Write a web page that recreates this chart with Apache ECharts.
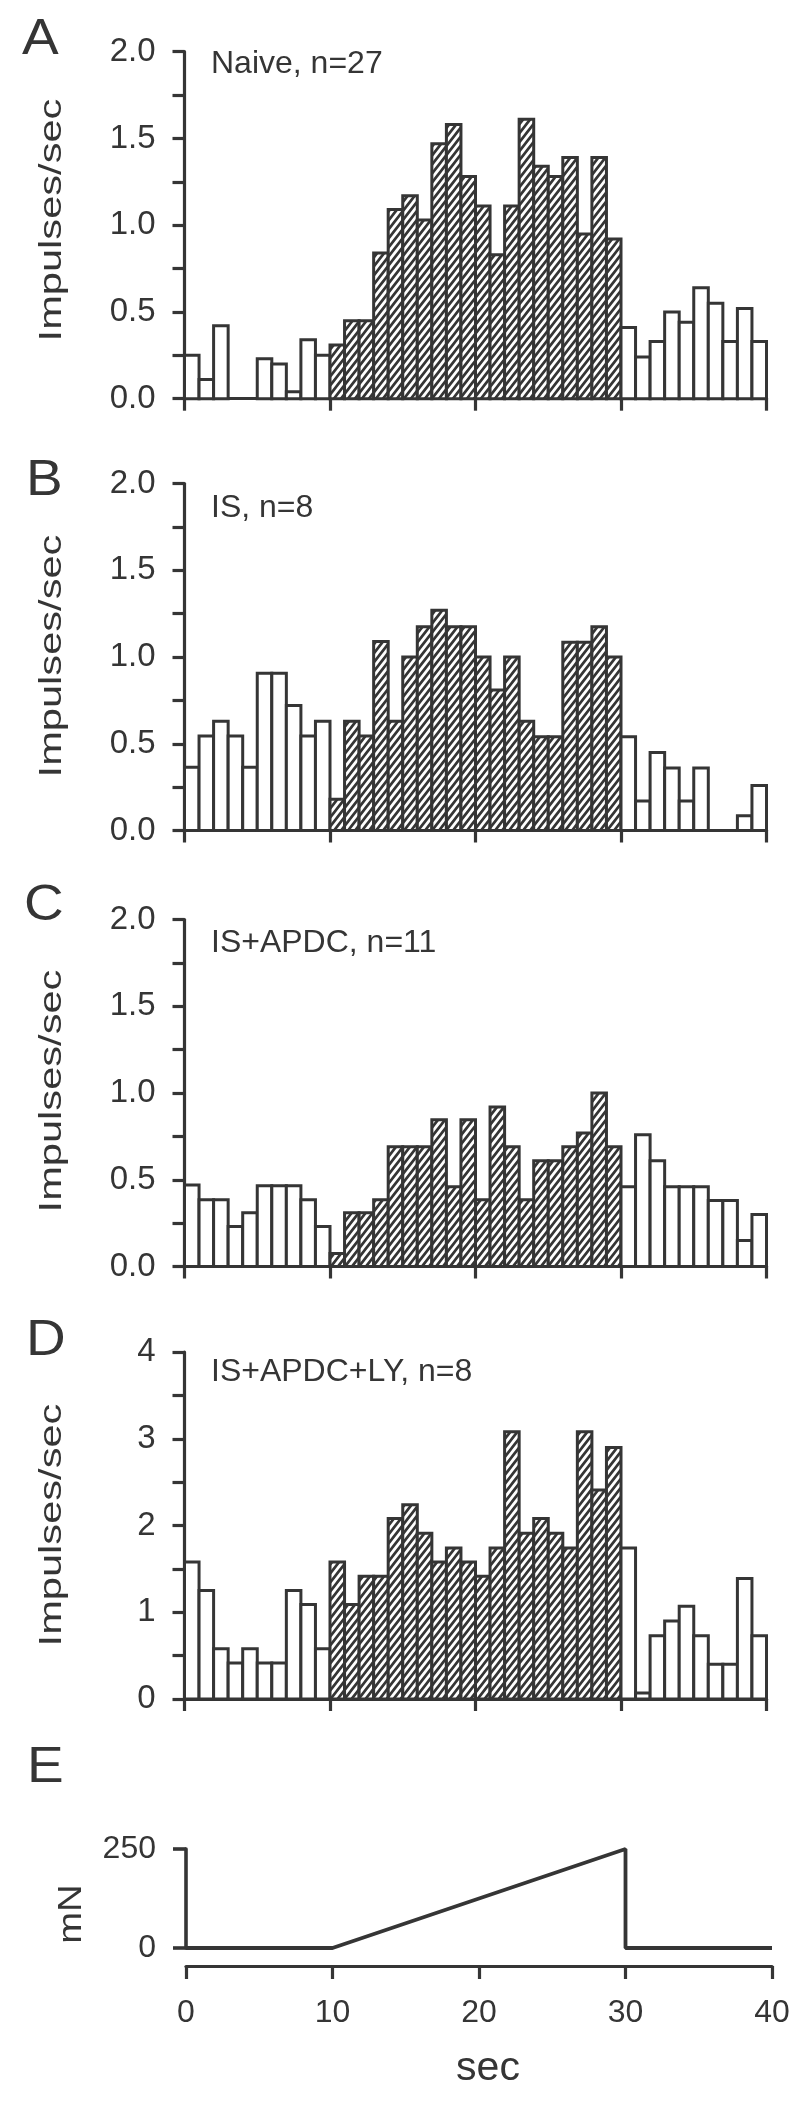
<!DOCTYPE html>
<html><head><meta charset="utf-8">
<script src="https://cdn.jsdelivr.net/npm/echarts@6/dist/echarts.min.js"></script>
<style>html,body{margin:0;padding:0;background:#fff}#c{width:800px;height:2104px}</style>
</head><body><div id="c"></div>
<script>
// ---- data ----
const binStarts = [0,1,2,3,4,5,6,7,8,9,10,11,12,13,14,15,16,17,18,19,20,21,22,23,24,25,26,27,28,29,30,31,32,33,34,35,36,37,38,39];
const naive = [0.25,0.11,0.42,0,0,0.23,0.20,0.04,0.34,0.25, 0.31,0.45,0.45,0.84,1.09,1.17,1.03,1.47,1.58,1.28, 1.11,0.83,1.11,1.61,1.34,1.28,1.39,0.95,1.39,0.92, 0.41,0.24,0.33,0.50,0.44,0.64,0.55,0.33,0.52,0.33];
const isN8 = [0.365,0.545,0.63,0.545,0.365,0.906,0.906,0.72,0.545,0.63, 0.18,0.63,0.545,1.09,0.63,1.0,1.175,1.27,1.175,1.175, 1.0,0.81,1.0,0.63,0.54,0.54,1.085,1.085,1.175,1.0, 0.54,0.17,0.45,0.36,0.17,0.36,0,0,0.085,0.26];
const isApdc = [0.47,0.385,0.385,0.23,0.31,0.465,0.465,0.465,0.385,0.23, 0.075,0.31,0.31,0.385,0.69,0.69,0.69,0.846,0.46,0.846, 0.385,0.92,0.69,0.385,0.61,0.61,0.69,0.77,1.0,0.69, 0.46,0.76,0.61,0.46,0.46,0.46,0.38,0.38,0.15,0.30];
const isApdcLy = [1.58,1.25,0.58,0.415,0.58,0.415,0.415,1.25,1.09,0.58, 1.58,1.09,1.415,1.415,2.08,2.24,1.91,1.58,1.74,1.58, 1.415,1.74,3.08,1.91,2.08,1.91,1.74,3.08,2.41,2.90, 1.74,0.07,0.73,0.90,1.07,0.73,0.40,0.40,1.39,0.73];
const stimStart = 10, stimEnd = 30;
const forceTime = [0,10,30,30,40];
const forceMN = [0,0,250,0,0];
const panelLetters = ['A','B','C','D','E'];
const panelTitles = ['Naive, n=27','IS, n=8','IS+APDC, n=11','IS+APDC+LY, n=8'];
const yMax = [2,2,2,4];
const yStep = [0.5,0.5,0.5,1];
const yLabelName = 'Impulses/sec';
const forceName = 'mN';
const timeName = 'sec';

// ---- style ----
const ink = '#353535';
const FONT = '"Liberation Sans", Arial, sans-serif';
function makeHatch(){
  const W=7,H=9; const c=document.createElement('canvas'); c.width=W; c.height=H;
  const g=c.getContext('2d'); g.fillStyle='#fff'; g.fillRect(0,0,W,H);
  g.strokeStyle=ink; g.lineWidth=2.7; g.lineCap='square';
  for (const dx of [-W,0,W]) { g.beginPath(); g.moveTo(dx, H); g.lineTo(dx+W, 0); g.stroke(); }
  return c;
}
const hatch = {image: makeHatch(), repeat: 'repeat'};

const panelTop = [51.7, 483.5, 919.5, 1352];
const panelH = 347;
const grids = panelTop.map(t => ({left:184.5, top:t, width:582, height:panelH, containLabel:false}));
grids.push({left:186, top:1849, width:586, height:99});

const lineSt = {color:ink, width:3.2};
const xAxes = [], yAxes = [], series = [];
const sets = [naive, isN8, isApdc, isApdcLy];
for (let i=0;i<4;i++){
  xAxes.push({type:'value', gridIndex:i, min:0, max:40, interval:10,
    axisLine:{show:true, onZero:true, lineStyle:lineSt},
    axisTick:{show:true, inside:false, length:12, lineStyle:lineSt},
    axisLabel:{show:false}, splitLine:{show:false}});
  yAxes.push({type:'value', gridIndex:i, min:0, max:yMax[i], interval:yStep[i],
    axisLine:{show:true, lineStyle:lineSt},
    axisTick:{show:true, inside:false, length:12, lineStyle:lineSt},
    minorTick:{show:true, splitNumber:2, length:12, lineStyle:lineSt},
    axisLabel:{show:true, margin:29, fontSize:33, color:ink, fontFamily:FONT,
      formatter: v => yStep[i] < 1 ? v.toFixed(1) : String(v)},
    splitLine:{show:false}});
  const vals = sets[i];
  series.push({type:'custom', xAxisIndex:i, yAxisIndex:i, clip:false,
    data: binStarts.map((s,k)=>[s, vals[k]]),
    encode:{x:0, y:1},
    renderItem: function(params, api){
      const x0 = api.value(0), v = api.value(1);
      if (!(v > 0)) return null;
      const p0 = api.coord([x0, v]); const p1 = api.coord([x0+1, 0]);
      const hatched = x0 >= stimStart && x0 < stimEnd;
      return {type:'rect', shape:{x:p0[0], y:p0[1], width:p1[0]-p0[0], height:p1[1]-p0[1]},
        style:{fill: hatched ? hatch : '#fff', stroke: ink, lineWidth: 3}};
    }});
}
xAxes.push({type:'value', gridIndex:4, min:0, max:40, interval:10, offset:18,
  axisLine:{show:true, onZero:false, lineStyle:lineSt},
  axisTick:{show:true, inside:false, length:13, lineStyle:lineSt},
  axisLabel:{show:true, margin:31, fontSize:32, color:ink, fontFamily:FONT},
  splitLine:{show:false}});
yAxes.push({type:'value', gridIndex:4, min:0, max:250, interval:250,
  axisLine:{show:true, lineStyle:{color:ink, width:3.6}},
  axisTick:{show:true, inside:false, length:13, lineStyle:{color:ink, width:3.6}},
  axisLabel:{show:true, margin:30, fontSize:32, color:ink, fontFamily:FONT},
  splitLine:{show:false}});
series.push({type:'line', xAxisIndex:4, yAxisIndex:4, clip:false, symbol:'none',
  data: forceTime.map((t,k)=>[t, forceMN[k]]),
  lineStyle:{color:ink, width:3.8}});

// ---- texts ----
const letterPos = [[22,40],[26,481],[24,906],[26,1341],[27,1768]];
const titlePos = [64,508,943,1372];
const yNameCenter = [220,656,1091,1525];
const graphics = [];
panelLetters.forEach((L,i)=>graphics.push({type:'text', x:letterPos[i][0], y:letterPos[i][1], scaleX:1.1,
  style:{text:L, fontSize:50, fill:ink, fontFamily:FONT, textAlign:'left', textVerticalAlign:'middle'}}));
panelTitles.forEach((t,i)=>graphics.push({type:'text', x:211, y:titlePos[i],
  style:{text:t, fontSize:32, fill:ink, fontFamily:FONT, textVerticalAlign:'middle', textAlign:'left'}}));
yNameCenter.forEach(c=>graphics.push({type:'text', x:52.5, y:c, rotation:Math.PI/2, scaleX:1.3,
  style:{text:yLabelName, fontSize:32, fill:ink, fontFamily:FONT, textAlign:'center', textVerticalAlign:'middle'}}));
graphics.push({type:'text', x:72, y:1914, rotation:Math.PI/2, scaleX:1.16,
  style:{text:forceName, fontSize:33, fill:ink, fontFamily:FONT, textAlign:'center', textVerticalAlign:'middle'}});
graphics.push({type:'text', x:488, y:2069,
  style:{text:timeName, fontSize:41, fill:ink, fontFamily:FONT, textAlign:'center', textVerticalAlign:'middle'}});

const chart = echarts.init(document.getElementById('c'), null, {renderer:'canvas'});
chart.setOption({backgroundColor:'#fff', animation:false,
  grid:grids, xAxis:xAxes, yAxis:yAxes, series:series, graphic:graphics});
</script></body></html>
